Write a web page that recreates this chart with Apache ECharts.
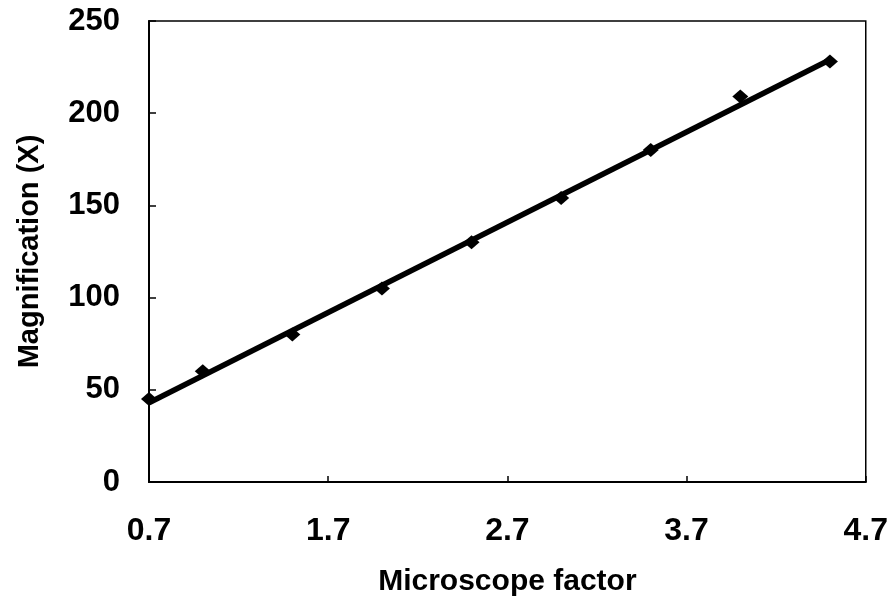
<!DOCTYPE html>
<html>
<head>
<meta charset="utf-8">
<script src="https://cdn.jsdelivr.net/npm/echarts@6/dist/echarts.min.js"></script>
<style>html,body{margin:0;padding:0;background:#fff;}#c{width:891px;height:602px;}</style>
</head>
<body>
<div id="c"></div>
<script>
// Measured points: microscope factor vs magnification
var microscopeFactor = [0.7, 1.0, 1.5, 2.0, 2.5, 3.0, 3.5, 4.0, 4.5];
var magnification = [45, 60, 80, 105, 130, 154, 180, 209, 228];
// Fitted trend line end points
var trendX = [0.7, 4.5];
var trendY = [43, 229];
// Tick labels
var xTicks = [0.7, 1.7, 2.7, 3.7, 4.7];
var yTicks = [0, 50, 100, 150, 200, 250];

var pts = microscopeFactor.map(function (x, i) { return [x, magnification[i]]; });
var trend = trendX.map(function (x, i) { return [x, trendY[i]]; });

var font = '"Liberation Sans", Arial, sans-serif';
var chart = echarts.init(document.getElementById('c'), null, {renderer: 'canvas'});
chart.setOption({
  animation: false,
  backgroundColor: '#fff',
  grid: {left: 149, right: 24, top: 21, bottom: 120, show: true, borderColor: '#000', borderWidth: 1.5, backgroundColor: 'transparent'},
  xAxis: {
    type: 'value', min: 0.7, max: 4.7,
    name: 'Microscope factor', nameLocation: 'middle', nameGap: 85,
    nameTextStyle: {fontFamily: font, fontWeight: 'bold', fontSize: 30, color: '#000'},
    axisLine: {show: true, lineStyle: {color: '#000', width: 2}},
    axisTick: {show: true, inside: true, length: 6, customValues: xTicks, lineStyle: {color: '#000', width: 1.5}},
    axisLabel: {customValues: xTicks, margin: 33, fontFamily: font, fontWeight: 'bold', fontSize: 32, color: '#000',
      formatter: function (v) { return v.toFixed(1); }},
    splitLine: {show: false}
  },
  yAxis: {
    type: 'value', min: 0, max: 250, interval: 50,
    name: 'Magnification (X)', nameLocation: 'middle', nameGap: 105,
    nameTextStyle: {fontFamily: font, fontWeight: 'bold', fontSize: 29, color: '#000'},
    axisLine: {show: true, lineStyle: {color: '#000', width: 2}},
    axisTick: {show: true, inside: true, length: 7, lineStyle: {color: '#000', width: 1.5}},
    axisLabel: {margin: 29, fontFamily: font, fontWeight: 'bold', fontSize: 31, color: '#000'},
    splitLine: {show: false}
  },
  series: [
    {type: 'scatter', data: pts, symbol: 'diamond', symbolSize: [16, 14], itemStyle: {color: '#000', opacity: 1}, z: 2},
    {type: 'line', data: trend, symbol: 'none', lineStyle: {color: '#000', width: 5.5}, z: 3}
  ]
});
</script>
</body>
</html>
